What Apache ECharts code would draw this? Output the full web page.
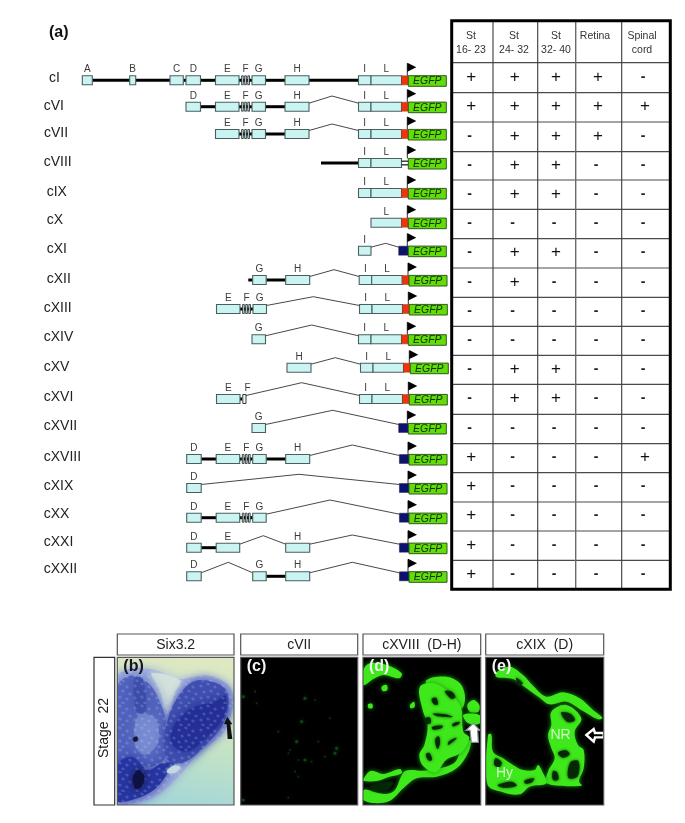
<!DOCTYPE html>
<html><head><meta charset="utf-8">
<style>html,body{margin:0;padding:0;background:#fff}#c{width:685px;height:823px}</style>
<script src="https://cdn.jsdelivr.net/npm/echarts@6/dist/echarts.min.js"></script>
</head><body><div id="c"></div>
<script>
// ---------- (a) construct data ----------
const constructs = ['cI','cVI','cVII','cVIII','cIX','cX','cXI','cXII','cXIII','cXIV','cXV','cXVI','cXVII','cXVIII','cXIX','cXX','cXXI','cXXII'];
const rowCenter = [80.3,106.7,134,163,193,222.7,250.7,280,309,339.3,367.7,399,428,459,488,517.7,547.7,576.3];
const nameY = [78,105.7,133,161.7,192,220,249,279,308,337,367,397,426,457,486,514,541.7,569];
const nameX = [49,43.7,44,43.7,46.7,46.7,46.7,46.7,43.7,43.7,43.7,43.7,43.7,43.7,43.7,43.7,43.7,43.7];
const rowShift = [0,0,0,0,0,0,0,0.7,1,0,2,1,0,0.7,0.7,0.7,0.7,0.7];
const exonNames = ['A','B','C','D','E','F','Fs','G','H','I','L'];
const exonStart = [82.3,129.7,170,186,215.5,241,241,252,285,358.5,371];
const exonEnd   = [92.3,135.7,183.3,200.5,239,250,245,265.5,309,371,401.5];
const rowExons = [
 ['A','B','C','D','E','F','G','H','I','L'],
 ['D','E','F','G','H','I','L'],
 ['E','F','G','H','I','L'],
 ['I','L'],['I','L'],['L'],['I'],
 ['G','H','I','L'],
 ['E','F','G','I','L'],
 ['G','I','L'],
 ['H','I','L'],
 ['E','Fs','I','L'],
 ['G'],
 ['D','E','F','G','H'],
 ['D'],
 ['D','E','F','G'],
 ['D','E','H'],
 ['D','G','H']
];
// exon after which a thin spliced line leaves, with its apex
const rowSplices = [
 {},{H:[332,96]},{H:[332,124]},{},{},{},{I:[385.7,243.3]},{H:[334,269.7]},
 {G:[313.3,296.7]},{G:[311.7,325]},{H:[335.3,357.7]},{Fs:[301.7,382.7]},{G:[332.7,410.3]},
 {H:[352.3,445]},{D:[299,474.3]},{G:[330,500]},{E:[263.3,535.7],H:[352.3,535]},{D:[228.3,562.3],H:[352.3,562.3]}
];
const rowLead = {cVIII:321, cXII:248.3};
const rowPromoter = ['red','red','red','hollow','red','red','navy','red','red','red','red','red','navy','navy','navy','navy','navy','navy'];

// ---------- (a) expression table ----------
const headerLines = [['St','16- 23'],['St','24- 32'],['St','32- 40'],['Retina'],['Spinal','cord']];
const headerX = [471,514,556,595,642];
const columnEdges = [451.7,493,537.7,575.7,621.7,670.3];
const rowEdges = [62.7,92.7,122,151.7,180,209.3,238.7,268,297.3,326.3,355.3,384.3,414.3,443.7,472.7,502,531,560.3,589.3];
const plusX = [471.3,514.7,556,598,645];
const minusX = [469.7,512.7,554,596,643];
const expression = [
 '++++-','+++++','-+++-','-++--','-++--','-----','-++--','-+---','-----',
 '-----','-++--','-++--','-----','+---+','+----','+----','+----','+----'
];

// ---------- lower panels ----------
const panelTitles = ['Six3.2','cVII','cXVIII  (D-H)','cXIX  (D)'];
const panelLeft = [117.3,240.7,363,485.7];
const panelRight = [234,357.7,480.7,603.7];
const panelLetters = ['(b)','(c)','(d)','(e)'];

// outlines, in 3x crop units
const tissueB = [[4,70],[60,40],[130,48],[190,72],[280,62],[340,90],[356,130],[345,190],[320,240],[250,295],[190,365],[130,418],[70,442],[2,444]];
const notchB = [[110,55],[195,76],[178,115],[158,172],[132,100]];
const midB = [[4,100],[45,62],[100,85],[135,140],[155,210],[155,300],[110,335],[50,320],[4,340]];
const lightB = [[70,180],[120,190],[130,260],[90,300],[60,270]];
const rightLobeB = [[150,235],[180,140],[240,78],[320,92],[340,130],[325,205],[262,280],[200,325],[155,310]];
const deepLobeB = [[175,215],[230,160],[300,140],[332,122],[324,190],[270,252],[215,290],[170,265]];
const bottomB = [[2,335],[50,305],[100,345],[140,325],[178,325],[165,345],[120,402],[60,432],[2,436]];
const stripeB = [[58,70],[82,70],[92,170],[64,170]];
const holeB = [[155,350],[175,332],[196,336],[178,354]];
const coreB = [[55,362],[72,345],[88,365],[80,395],[60,400]];
const dotB = [[55,250],[66,245],[68,256],[58,260]];
const arrowB = [[337,185],[352,208],[346,208],[352,252],[338,252],[335,208],[327,208]];

// faint fluorescence in (c), crop units of the left pair of panels
const specksC = [[475,215],[510,200],[515,235],[660,220],[690,225],[735,280],[635,350],[610,385],[640,405],[750,385],[720,395],[580,320],[660,405],[630,440],[640,455],[475,525],[610,518],[680,410],[650,290],[700,350],[615,375],[755,370]];

const greenD = [
 [[8,432],[12,405],[40,410],[80,417],[105,405],[130,352],[150,345],[190,347],[240,340],[285,322],[305,280],[332,255],[325,292],[290,340],[230,365],[170,370],[130,400],[90,437],[40,444]],
 [[10,45],[30,25],[80,30],[125,55],[118,70],[70,60],[40,72],[10,90]],
 [[10,372],[32,348],[70,357],[120,342],[125,355],[80,368],[50,378],[10,378]],
 [[200,75],[260,65],[300,85],[315,125],[305,160],[270,148],[235,130],[205,105]],
 [[180,95],[232,88],[300,150],[310,230],[328,248],[305,292],[258,315],[228,352],[190,334],[178,300],[193,270],[203,210],[188,165]],
 [[322,150],[340,135],[358,150],[355,170],[330,170]],
 [[310,180],[358,180],[360,205],[325,205]],
 [[24,148],[36,146],[38,158],[26,160]],[[150,150],[162,140],[164,155],[152,160]],
 [[65,95],[80,90],[82,105],[68,108]]
];
const holesD = [
 [[255,108],[275,110],[286,126],[275,132],[260,118]],
 [[218,176],[255,178],[278,186],[236,184]],
 [[216,216],[248,212],[245,219],[220,224]],
 [[226,252],[236,244],[240,262],[234,282],[229,276]],
 [[198,298],[208,294],[216,314],[205,316]],
 [[278,206],[298,200],[298,206],[278,214]],
 [[268,258],[290,248],[284,256],[264,270]],
 [[30,395],[60,384],[100,382],[80,406],[45,408]],
 [[215,132],[228,128],[234,148],[222,148]],
 [[196,190],[210,188],[212,204],[198,206]]
];
const arrowD = [[318,226],[340,205],[360,226],[353,226],[355,262],[334,262],[330,226]];

const greenE = [
 [[40,52],[80,35],[120,60],[150,92],[190,125],[240,112],[290,130],[330,165],[358,188],[345,193],[300,168],[250,140],[200,148],[170,128],[120,92],[90,72],[40,66]],
 [[205,170],[250,150],[295,190],[275,230],[285,270],[302,285],[302,340],[288,378],[296,392],[190,385],[195,350],[215,310],[205,280],[195,240],[205,210]],
 [[15,240],[25,238],[30,290],[60,310],[90,330],[120,345],[155,345],[165,330],[178,350],[190,385],[140,395],[110,418],[60,412],[13,388]]
];
const holesE = [
 [[235,172],[262,176],[276,195],[256,202],[242,190]],
 [[225,294],[248,286],[260,298],[240,308]],
 [[262,322],[286,318],[284,364],[256,368]],
 [[210,348],[222,352],[226,374],[210,374]],
 [[38,310],[56,322],[50,336],[34,330]],
 [[44,390],[85,380],[101,392],[60,398]],
 [[124,377],[153,370],[148,381],[128,386]],
 [[100,68],[120,85],[106,88]]
];
const arrowE = [[310,240],[332,222],[336,234],[362,234],[362,247],[336,247],[332,260]];

// ---------- drawing helpers ----------
const exonIndex = n => exonNames.indexOf(n);
const FONT = '"Liberation Sans", Arial, sans-serif';
function poly(api, pts, style, ox, oy, smooth){
  const p = pts.map(q => api.coord(ox === undefined ? q : [ox + q[0]/3, oy + q[1]/3]));
  return {type:'polygon', shape:{points:p, smooth:smooth||0}, style};
}
function rect(api, x0, y0, x1, y1, style){
  const a = api.coord([x0,y0]), b = api.coord([x1,y1]);
  return {type:'rect', shape:{x:a[0],y:a[1],width:b[0]-a[0],height:b[1]-a[1]}, style};
}
function line(api, x0, y0, x1, y1, stroke, lineWidth){
  const a = api.coord([x0,y0]), b = api.coord([x1,y1]);
  return {type:'line', shape:{x1:a[0],y1:a[1],x2:b[0],y2:b[1]}, style:{stroke,lineWidth}};
}
function txt(api, x, y, text, o){
  const a = api.coord([x,y]);
  return {type:'text', x:a[0], y:a[1], style:Object.assign({text, font:'10.5px '+FONT, fill:'#333', textAlign:'center', textVerticalAlign:'middle'}, o||{})};
}

function renderRow(params, api){
  const i = api.value(0), ch = [], cy = rowCenter[i], dx = rowShift[i], top = cy-4.5, bot = cy+4.5;
  const exons = rowExons[i], spl = rowSplices[i];
  ch.push(txt(api, nameX[i], nameY[i], constructs[i], {font:'14px '+FONT, textAlign:'left', fill:'#222'}));
  const pr = rowPromoter[i];
  const prStart = pr === 'navy' ? 398.7 : 401.5;
  const starts = exons.map(n => exonStart[exonIndex(n)] + dx);
  const ends = exons.map(n => exonEnd[exonIndex(n)] + dx);
  if (rowLead[constructs[i]] !== undefined) ch.push(line(api, rowLead[constructs[i]], cy, starts[0], cy, '#000', 3));
  exons.forEach((n, k) => {
    const nextX = k < exons.length-1 ? starts[k+1] : prStart + dx;
    if (spl[n]) {
      const a = api.coord([ends[k], top+1]), m = api.coord(spl[n]), b = api.coord([nextX, top+1]);
      ch.push({type:'polyline', shape:{points:[a,m,b]}, style:{stroke:'#333', lineWidth:0.9, fill:null}});
    } else if (k < exons.length-1) {
      ch.push(line(api, ends[k], cy, nextX, cy, '#000', 3));
    }
  });
  const exonStyle = {fill:'#c9f4f1', stroke:'#4a5f5c', lineWidth:1.1};
  exons.forEach((n, k) => {
    if (n === 'F') {
      ch.push(line(api, starts[k], cy, ends[k], cy, '#000', 3));
      [0.6,3.7,6.8].forEach(o => ch.push(rect(api, starts[k]+o, top, starts[k]+o+1.7, bot, {fill:'#c9f4f1', stroke:'#222', lineWidth:0.8})));
    } else if (n === 'Fs') {
      ch.push(rect(api, starts[k]+0.8, top, starts[k]+4, bot, {fill:'#e8fbfa', stroke:'#222', lineWidth:0.9}));
    } else {
      ch.push(rect(api, starts[k], top, ends[k], bot, exonStyle));
    }
    const lab = n === 'Fs' ? 'F' : n;
    ch.push(txt(api, n === 'Fs' ? starts[k]+5.5 : (starts[k]+ends[k])/2, cy-10.7, lab, {font:'10px '+FONT, fill:'#3a3a3a'}));
  });
  const gx = 408.3 + dx;
  if (pr === 'red') ch.push(rect(api, 401.5+dx, top, gx, bot, {fill:'#f0330f', stroke:'#8a3a20', lineWidth:0.5}));
  if (pr === 'navy') ch.push(rect(api, 398.7+dx, top, gx, bot, {fill:'#0c1270', stroke:'#223', lineWidth:0.5}));
  if (pr === 'hollow') {
    ch.push(line(api, 401.5+dx, cy-1.8, gx, cy-1.8, '#222', 1.3));
    ch.push(line(api, 401.5+dx, cy+1.8, gx, cy+1.8, '#222', 1.3));
  }
  ch.push(rect(api, gx, cy-4.6, gx+38, cy+6, {fill:'#62dd08', stroke:'#2f5a1c', lineWidth:1}));
  ch.push(txt(api, gx+19, cy+1, 'EGFP', {font:'italic 10.5px '+FONT, fill:'#10300a'}));
  ch.push(line(api, gx-1, cy-17, gx-1, cy-4.6, '#111', 0.9));
  ch.push(poly(api, [[gx-1,cy-17.6],[gx+8,cy-13],[gx-1,cy-8.6]], {fill:'#000'}));
  return {type:'group', children:ch};
}

function renderTable(params, api){
  const ch = [];
  ch.push(rect(api, columnEdges[0], 20.8, columnEdges[5], rowEdges[18], {fill:'#fff'}));
  rowEdges.slice(0,-1).forEach(y => ch.push(line(api, columnEdges[0], y, columnEdges[5], y, '#4a4a4a', 1.2)));
  columnEdges.slice(1,-1).forEach((x,k) => ch.push(line(api, x, 20.8, x, rowEdges[18], k===2?'#6a6a6a':'#3a3a3a', k===2?1.4:1.1)));
  ch.push(rect(api, columnEdges[0], 20.8, columnEdges[5], rowEdges[18], {fill:null, stroke:'#000', lineWidth:3}));
  headerLines.forEach((ls,k) => ls.forEach((t,j) => ch.push(txt(api, headerX[k], 36+j*14, t, {font:'10.5px '+FONT, fill:'#333'}))));
  expression.forEach((row,r) => {
    const y = (rowEdges[r]+rowEdges[r+1])/2 - 0.7;
    row.split('').forEach((s,c) => {
      ch.push(s === '+' ? txt(api, plusX[c], y, '+', {font:'17px '+FONT, fill:'#111'})
                        : txt(api, minusX[c], y-0.3, '-', {font:'bold 14px '+FONT, fill:'#222'}));
    });
  });
  return {type:'group', children:ch};
}

// fixed cell-like mottling for the stained section
const tile = document.createElement('canvas');
tile.width = 22; tile.height = 22;
(function(){
  const g = tile.getContext('2d');
  const cells = [[3,4],[10,2],[17,5],[20,12],[6,10],[13,9],[17,17],[3,16],[10,15],[13,21],[5,21]];
  g.fillStyle = 'rgba(205,220,245,0.2)';
  cells.forEach(c => { g.beginPath(); g.ellipse(c[0],c[1],1.8,1.3,0.5,0,6.3); g.fill(); });
})();

function soft(color, blur){ return {fill:color, shadowColor:color, shadowBlur:blur===undefined?3:blur}; }
function glow(){ return {fill:'#3ee81a', shadowColor:'#1f9a10', shadowBlur:5}; }
const SM = 0.35;

function renderPanels(params, api){
  const ch = [], B = 115, D = 360, E = 483, OY = 655, T = 657.3, Bt = 805;
  const clip = k => { const a = api.coord([panelLeft[k],T]), b = api.coord([panelRight[k],Bt]);
    return {type:'rect', shape:{x:a[0],y:a[1],width:b[0]-a[0],height:b[1]-a[1]}}; };

  // (b)
  const a0 = api.coord([panelLeft[0],T]), b0 = api.coord([panelRight[0],Bt]);
  const gb = [];
  gb.push({type:'rect', shape:{x:a0[0],y:a0[1],width:b0[0]-a0[0],height:b0[1]-a0[1]},
    style:{fill:new echarts.graphic.LinearGradient(0.6,0,0.4,1,[{offset:0,color:'#dfe8c2'},{offset:0.55,color:'#c6e4c4'},{offset:1,color:'#a4d6d8'}])}});
  gb.push(poly(api, tissueB, soft('#9fafdd',8), B, OY, SM));
  gb.push(poly(api, notchB, soft('#d3e2da',8), B, OY, SM));
  gb.push(poly(api, midB, soft('rgba(74,92,186,0.85)',14), B, OY, SM));
  gb.push(poly(api, lightB, soft('rgba(140,158,220,0.55)',14), B, OY, SM));
  gb.push(poly(api, stripeB, soft('rgba(50,66,160,0.55)',10), B, OY, SM));
  gb.push(poly(api, rightLobeB, soft('#3f4eb0',10), B, OY, SM));
  gb.push(poly(api, deepLobeB, soft('#232f96',12), B, OY, SM));
  gb.push(poly(api, bottomB, soft('#2634a2',12), B, OY, SM));
  gb.push(poly(api, holeB, soft('#c6d8e4',3), B, OY, SM));
  gb.push(poly(api, tissueB, {fill:{image:tile, repeat:'repeat'}}, B, OY, SM));
  gb.push(poly(api, coreB, soft('#0d1242',8), B, OY, SM));
  gb.push(poly(api, dotB, soft('#141838',2), B, OY, SM));
  gb.push(poly(api, arrowB, {fill:'#111'}, B, OY));
  ch.push({type:'group', clipPath:clip(0), children:gb});

  // (c)
  const gc = [rect(api, panelLeft[1], T, panelRight[1], Bt, {fill:'#000'})];
  specksC.forEach((s,i) => {
    const a = api.coord([85 + s[0]/3, 625 + s[1]/3]);
    gc.push({type:'circle', shape:{cx:a[0],cy:a[1],r:i%3===0?1.6:1.1}, style:soft(i%3===0?'#0f4514':'#0a2e0e',4)});
  });
  ch.push({type:'group', clipPath:clip(1), children:gc});

  // (d)
  const gd = [rect(api, panelLeft[2], T, panelRight[2], Bt, {fill:'#000'})];
  greenD.forEach(s => gd.push(poly(api, s, glow(), D, OY, SM)));
  holesD.forEach(s => gd.push(poly(api, s, soft('rgba(4,40,3,0.95)',3), D, OY, SM)));
  gd.push(poly(api, arrowD, {fill:'#fff', stroke:'#7f8f98', lineWidth:1.2}, D, OY));
  ch.push({type:'group', clipPath:clip(2), children:gd});

  // (e)
  const ge = [rect(api, panelLeft[3], T, panelRight[3], Bt, {fill:'#000'})];
  greenE.forEach(s => ge.push(poly(api, s, glow(), E, OY, SM)));
  holesE.forEach(s => ge.push(poly(api, s, soft('rgba(4,40,3,0.95)',3), E, OY, SM)));
  ge.push(poly(api, arrowE, {fill:'#000', stroke:'#fff', lineWidth:2.4}, E, OY));
  ge.push(txt(api, 560.5, 735, 'NR', {font:'14px '+FONT, fill:'rgba(235,250,230,0.88)'}));
  ge.push(txt(api, 504.5, 773, 'Hy', {font:'14px '+FONT, fill:'rgba(235,250,230,0.88)'}));
  ch.push({type:'group', clipPath:clip(3), children:ge});

  // frames, titles, letters
  panelTitles.forEach((t,k) => {
    ch.push(rect(api, panelLeft[k], T, panelRight[k], Bt, {fill:null, stroke:'#555', lineWidth:1.2}));
    ch.push(rect(api, panelLeft[k], 634, panelRight[k], 655, {fill:'#fff', stroke:'#555', lineWidth:1.2}));
    ch.push(txt(api, (panelLeft[k]+panelRight[k])/2, 645, t, {font:'14px '+FONT, fill:'#222'}));
    ch.push(txt(api, panelLeft[k]+6, 667, panelLetters[k], {font:'bold 16px '+FONT, textAlign:'left', fill:k===0?'#15151f':'#f4f4f4'}));
  });
  ch.push(rect(api, 94, T, 114.7, Bt, {fill:'#fff', stroke:'#333', lineWidth:1.2}));
  const sc = api.coord([104, 728]);
  ch.push({type:'text', x:sc[0], y:sc[1], rotation:Math.PI/2,
    style:{text:'Stage  22', font:'14px '+FONT, fill:'#222', textAlign:'center', textVerticalAlign:'middle'}});
  ch.push(txt(api, 49, 33, '(a)', {font:'bold 16px '+FONT, textAlign:'left', fill:'#111'}));
  return {type:'group', children:ch};
}

const chart = echarts.init(document.getElementById('c'), null, {renderer:'canvas'});
chart.setOption({
  animation:false, backgroundColor:'#fff',
  grid:{left:0,right:0,top:0,bottom:0},
  xAxis:{type:'value',min:0,max:685,show:false},
  yAxis:{type:'value',min:0,max:823,inverse:true,show:false},
  series:[
    {type:'custom', coordinateSystem:'cartesian2d', clip:false, silent:true, renderItem:renderTable, data:[[0]], encode:{x:0}},
    {type:'custom', coordinateSystem:'cartesian2d', clip:false, silent:true, renderItem:renderRow, data:constructs.map((c,i)=>[i]), encode:{x:0}},
    {type:'custom', coordinateSystem:'cartesian2d', clip:false, silent:true, renderItem:renderPanels, data:[[0]], encode:{x:0}}
  ]
});
</script></body></html>
